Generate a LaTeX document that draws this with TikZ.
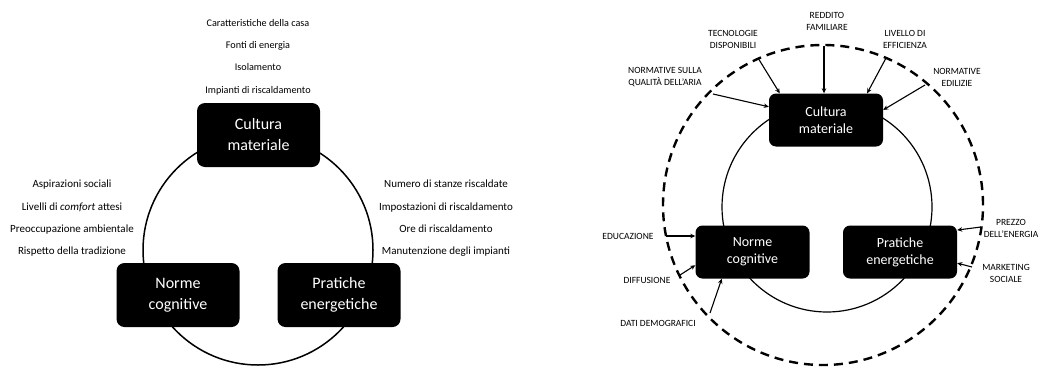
\documentclass[tikz,border=0pt]{standalone}
\usepackage{fontspec}
\setmainfont{Carlito}
\usetikzlibrary{arrows.meta,calc}
\begin{document}
\begin{tikzpicture}[x=1pt,y=-1pt,
 bigbox/.style={fill=black, rounded corners=8pt, minimum width=123pt, minimum height=64pt, text=white, align=center, font=\fontsize{16}{21}\selectfont, inner sep=0pt},
 smallbox/.style={fill=black, rounded corners=7pt, minimum width=114pt, minimum height=53pt, text=white, align=center, font=\fontsize{14}{17}\selectfont, inner sep=0pt},
 listtext/.style={align=center, font=\fontsize{11}{22.3}\selectfont, inner sep=0pt},
 toptext/.style={align=center, font=\fontsize{10.2}{22.2}\selectfont, inner sep=0pt},
 caps/.style={align=center, font=\fontsize{9.5}{12}\selectfont, inner sep=0pt},
 inarrow/.style={-{Stealth[length=5pt,width=4.5pt]}, line width=1.1pt},
]
\useasboundingbox (0,0) rectangle (1040,367);
% ---------------- left diagram ----------------
\coordinate (c1) at (258,250);
\draw[line width=1.5pt] (c1) circle (115pt);
\node[bigbox] (cm1) at (258.5,135) {Cultura\\materiale};
\node[bigbox] (nc1) at (178,295) {Norme\\cognitive};
\node[bigbox] (pe1) at (339,295) {Pratiche\\energetiche};
\node[toptext] (t1) at (258,57) {Caratteristiche della casa\\Fonti di energia\\Isolamento\\Impianti di riscaldamento};
\node[listtext] (t2) at (72,218.5) {Aspirazioni sociali\\Livelli di \textit{comfort} attesi\\Preoccupazione ambientale\\Rispetto della tradizione};
\node[listtext] (t3) at (446,218.5) {Numero di stanze riscaldate\\Impostazioni di riscaldamento\\Ore di riscaldamento\\Manutenzione degli impianti};
% ---------------- right diagram ----------------
\coordinate (c2) at (823,205);
\coordinate (c3) at (827,207);
\draw[line width=2.4pt, dash pattern=on 9pt off 6pt] (c2) circle (160pt);
\draw[line width=1.2pt] (c3) circle (105pt);
\node[smallbox] (cm2) at (826,120) {Cultura\\materiale};
\node[smallbox] (nc2) at (752.5,252) {Norme\\cognitive};
\node[smallbox] (pe2) at (900,252) {Pratiche\\energetiche};
% labels
\node[caps] (l1) at (827,21.5) {REDDITO\\FAMILIARE};
\node[caps] (l2) at (733,39) {TECNOLOGIE\\DISPONIBILI};
\node[caps] (l3) at (905,39) {LIVELLO DI\\EFFICIENZA};
\node[caps] (l4) at (665,77) {NORMATIVE SULLA\\QUALITÀ DELL’ARIA};
\node[caps] (l5) at (957,77) {NORMATIVE\\EDILIZIE};
\node[caps] (l6) at (628,236) {EDUCAZIONE};
\node[caps] (l7) at (647,280) {DIFFUSIONE};
\node[caps] (l8) at (658,323) {DATI DEMOGRAFICI};
\node[caps] (l9) at (1011,228.5) {PREZZO\\DELL’ENERGIA};
\node[caps] (l10) at (1006,273.5) {MARKETING\\SOCIALE};
% arrow starts on the dashed circle
\coordinate (s1) at (824,46);
\coordinate (s2) at (758,58);
\coordinate (s3) at (886,58);
\coordinate (s4) at (713,94);
\coordinate (s5) at (925,85);
\coordinate (s6) at (666,236);
\coordinate (s7) at (680,275);
\coordinate (s8) at (710,313);
\coordinate (s9) at (981,227);
\coordinate (s10) at (972,267);
\draw[inarrow] (s1) -- (cm2.north -| s1);
\draw[inarrow] (s2) -- (cm2.150);
\draw[inarrow] (s3) -- (cm2.33);
\draw[inarrow] (s4) -- (cm2.167);
\draw[inarrow] (s5) -- (cm2.10);
\draw[inarrow] (s6) -- (nc2.west |- s6);
\draw[inarrow] (s7) -- (nc2.-167);
\draw[inarrow] (s8) -- (nc2.-139);
\draw[inarrow] (s9) -- (pe2.21);
\draw[inarrow] (s10) -- (pe2.-11);
\end{tikzpicture}
\end{document}
